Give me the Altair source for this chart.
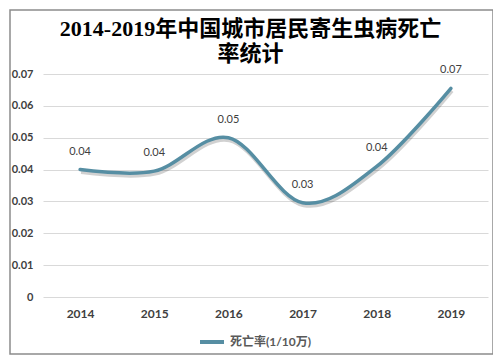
import altair as alt
import pandas as pd

years = ["2014", "2015", "2016", "2017", "2018", "2019"]
rates = [0.040, 0.0395, 0.050, 0.0296, 0.041, 0.0655]
series_name = "死亡率(1/10万)"
title_lines = ["2014-2019年中国城市居民寄生虫病死亡", "率统计"]
y_ticks = [0, 0.01, 0.02, 0.03, 0.04, 0.05, 0.06, 0.07]

df = pd.DataFrame({"year": years, "rate": rates, "series": [series_name] * len(years)})

LINE = "#568ea3"
FONT = "Lato, Noto Sans CJK SC, sans-serif"

x = alt.X("year:O", sort=years, scale=alt.Scale(padding=0.5),
          axis=alt.Axis(title=None, labelAngle=0, labelFontWeight="bold", labelFontSize=12,
                        labelColor="#404040", labelPadding=11, ticks=False, domain=False,
                        grid=False, labelFont=FONT))
y = alt.Y("rate:Q", scale=alt.Scale(domain=[0, 0.07], nice=False),
          axis=alt.Axis(title=None, values=y_ticks, labelFontWeight="bold", labelFontSize=11,
                        labelColor="#404040", labelPadding=10, ticks=False, domain=False,
                        gridColor="#d9d9d9", labelFont=FONT,
                        labelExpr="datum.value == 0 ? '0' : format(datum.value, '.2f')"))

base = alt.Chart(df)

shadow = base.mark_line(interpolate="cardinal", strokeWidth=4, color="#000000",
                        opacity=0.18, yOffset=2.5, xOffset=1).encode(x=x, y=y)

line = base.mark_line(interpolate="cardinal", strokeWidth=3.5, strokeCap="round").encode(
    x=x, y=y,
    color=alt.Color("series:N", scale=alt.Scale(domain=[series_name], range=[LINE]),
                    legend=alt.Legend(title=None, orient="none", legendX=155, legendY=254,
                                      symbolType="stroke", symbolSize=576, symbolStrokeWidth=4,
                                      labelFontSize=12, labelColor="#595959", labelFont=FONT,
                                      labelFontWeight="bold")))

labels = base.mark_text(dy=-18, fontSize=11, color="#404040", font=FONT).encode(
    x=x, y=y, text=alt.Text("rate:Q", format=".2f"))

border = alt.Chart(pd.DataFrame({"a": [0]})).mark_rect(
    fill=None, stroke="#8c8c8c", strokeWidth=1.5).encode(
    x=alt.value(-33), x2=alt.value(450), y=alt.value(-64), y2=alt.value(280))

chart = alt.layer(shadow, line, labels, border).properties(
    width=445, height=223,
    title=alt.TitleParams(text=title_lines, fontSize=22, font="Liberation Serif, Noto Sans CJK SC, serif",
                          fontWeight="bold", color="#000000", anchor="middle", dx=-15,
                          lineHeight=25, offset=-57, frame="group"),
    autosize=alt.AutoSizeParams(type="none"),
    padding={"left": 35, "top": 66, "right": 5, "bottom": 58},
).configure_view(stroke=None)

chart.save("out.html", embed_options={"renderer": "svg", "actions": False})
